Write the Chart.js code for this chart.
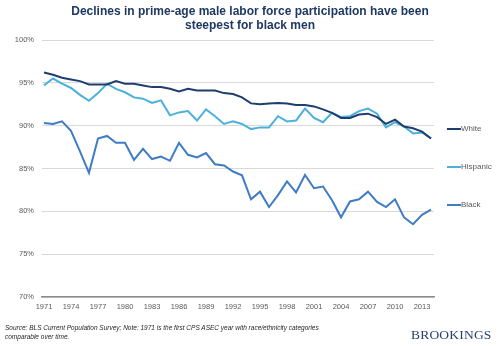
<!DOCTYPE html>
<html>
<head>
<meta charset="utf-8">
<script src="https://cdn.jsdelivr.net/npm/chart.js@4/dist/chart.umd.min.js"></script>
<style>
  html, body { margin: 0; padding: 0; background: #fff; }
  #wrap { position: relative; width: 500px; height: 346px; font-family: "Liberation Sans", Arial, sans-serif; }
  #title { position: absolute; left: 0; top: 5px; width: 500px; text-align: center;
           font-weight: bold; font-size: 12px; line-height: 13.5px; color: #1f3864; }
  #note { position: absolute; left: 5px; top: 323px; font-style: italic; font-size: 6.5px;
          line-height: 9px; color: #262626; }
  #brand { position: absolute; left: 411px; top: 327px; font-family: "Liberation Serif", "Times New Roman", serif;
           font-size: 13.5px; color: #2a4170; letter-spacing: 0.2px; }
  canvas { position: absolute; left: 0; top: 0; }
</style>
</head>
<body>
<div id="wrap">
  <canvas id="chart" width="500" height="346"></canvas>
  <div id="title">Declines in prime-age male labor force participation have been<br>steepest for black men</div>
  <div id="note">Source: BLS Current Population Survey; Note: 1971 is the first CPS ASEC year with race/ethnicity categories<br>comparable over time.</div>
  <div id="brand">BROOKINGS</div>
</div>
<script>
// Data
const years = [1971, 1972, 1973, 1974, 1975, 1976, 1977, 1978, 1979, 1980,
               1981, 1982, 1983, 1984, 1985, 1986, 1987, 1988, 1989, 1990,
               1991, 1992, 1993, 1994, 1995, 1996, 1997, 1998, 1999, 2000,
               2001, 2002, 2003, 2004, 2005, 2006, 2007, 2008, 2009, 2010,
               2011, 2012, 2013, 2014];
const white = [96.2, 95.95, 95.6, 95.4, 95.2, 94.8, 94.8, 94.8, 95.2, 94.9,
               94.9, 94.7, 94.5, 94.5, 94.3, 94.0, 94.3, 94.1, 94.1, 94.1,
               93.8, 93.7, 93.3, 92.6, 92.5, 92.6, 92.65, 92.6, 92.4, 92.4,
               92.25, 91.9, 91.5, 90.9, 90.9, 91.3, 91.4, 91.0, 90.2, 90.7,
               89.9, 89.7, 89.3, 88.5];
const hispanic = [94.7, 95.5, 94.9, 94.4, 93.6, 92.9, 93.8, 94.9, 94.3, 93.9,
                  93.3, 93.15, 92.65, 92.95, 91.2, 91.55, 91.7, 90.6, 91.9, 91.1,
                  90.2, 90.5, 90.2, 89.6, 89.8, 89.8, 91.1, 90.5, 90.6, 92.0,
                  90.9, 90.4, 91.5, 91.0, 91.1, 91.7, 92.0, 91.4, 89.8, 90.4,
                  89.9, 89.1, 89.2, 88.5];
const black = [90.3, 90.2, 90.5, 89.4, 87.0, 84.5, 88.5, 88.8, 88.0, 88.0,
               86.0, 87.3, 86.1, 86.4, 85.9, 88.0, 86.6, 86.3, 86.8, 85.5,
               85.35, 84.65, 84.2, 81.4, 82.3, 80.5, 81.9, 83.5, 82.2, 84.25,
               82.7, 82.9, 81.3, 79.3, 81.15, 81.4, 82.3, 81.1, 80.5, 81.4,
               79.3, 78.5, 79.6, 80.2];
const seriesNames = ["White", "Hispanic", "Black"];
const seriesColors = ["#1f3d6e", "#4bb1dc", "#3f7cc4"];
const yTicks = [70, 75, 80, 85, 90, 95, 100];

const toPoints = vals => vals.map((v, i) => ({x: years[i], y: v}));
const allSeries = [white, hispanic, black];

// Legend drawn at the right, like the original
const sideLegend = {
    id: "sideLegend",
    afterDraw(chart) {
        const ctx = chart.ctx;
        const rows = [129, 167, 205];
        ctx.save();
        ctx.font = "8px 'Liberation Sans', Arial, sans-serif";
        ctx.textBaseline = "middle";
        seriesNames.forEach((name, i) => {
            ctx.strokeStyle = seriesColors[i];
            ctx.lineWidth = 2;
            ctx.beginPath();
            ctx.moveTo(447, rows[i]);
            ctx.lineTo(461, rows[i]);
            ctx.stroke();
            ctx.fillStyle = "#595959";
            ctx.fillText(name, 461, rows[i]);
        });
        ctx.restore();
    }
};

let ctx = document.querySelector("#chart").getContext("2d");
let myChart = new Chart(ctx, {
    type: "line",
    data: {
        datasets: allSeries.map((vals, i) => ({
            label: seriesNames[i],
            data: toPoints(vals),
            borderColor: seriesColors[i],
            backgroundColor: seriesColors[i],
            borderWidth: 2,
            pointRadius: 0,
            tension: 0,
            fill: false
        }))
    },
    options: {
        responsive: false,
        animation: false,
        layout: { padding: { left: 0, right: 66, top: 40, bottom: 35 } },
        plugins: {
            legend: { display: false },
            title: { display: false },
            tooltip: { enabled: false }
        },
        events: [],
        scales: {
            x: {
                type: "linear",
                min: 1970.78,
                max: 2014.33,
                afterFit: s => { s.height = 14; },
                grid: { display: false, drawTicks: false },
                border: { display: true, color: "#8c8c8c", width: 1.5 },
                ticks: {
                    stepSize: 3,
                    includeBounds: false,
                    padding: 5,
                    color: "#595959",
                    font: { family: "'Liberation Sans', Arial, sans-serif", size: 7.5 },
                    maxRotation: 0,
                    autoSkip: false,
                    callback: v => String(v)
                }
            },
            y: {
                min: yTicks[0],
                max: yTicks[yTicks.length - 1],
                afterFit: s => { s.width = 42; },
                afterBuildTicks: s => { s.ticks = yTicks.map(v => ({value: v})); },
                grid: { color: "#d9d9d9", lineWidth: 1, drawTicks: false },
                border: { display: false },
                ticks: {
                    padding: 8,
                    color: "#595959",
                    font: { family: "'Liberation Sans', Arial, sans-serif", size: 7.5 },
                    callback: v => v + "%"
                }
            }
        }
    },
    plugins: [sideLegend]
});
</script>
</body>
</html>
